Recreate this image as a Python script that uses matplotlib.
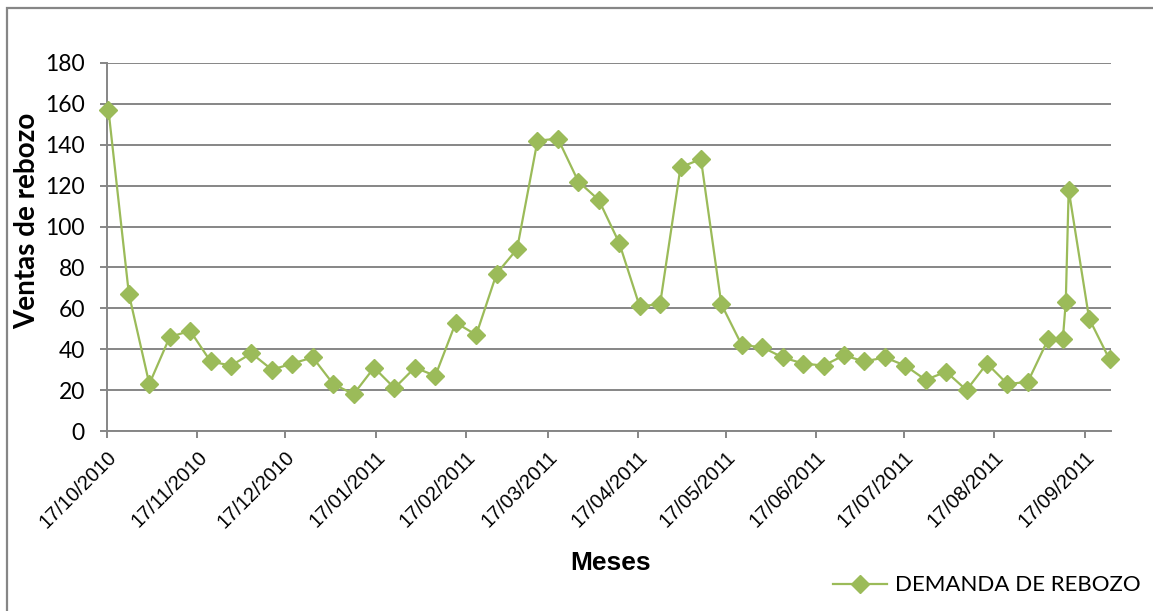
import numpy as np
import pandas as pd
import matplotlib
matplotlib.use('Agg')
import matplotlib.pyplot as plt
import matplotlib.dates as mdates
from matplotlib.lines import Line2D
from matplotlib.patches import Rectangle

# demanda semanal de rebozo
fechas = ['2010-10-17', '2010-10-24', '2010-10-31', '2010-11-07', '2010-11-14', '2010-11-21',
          '2010-11-28', '2010-12-05', '2010-12-12', '2010-12-19', '2010-12-26', '2011-01-02',
          '2011-01-09', '2011-01-16', '2011-01-23', '2011-01-30', '2011-02-06', '2011-02-13',
          '2011-02-20', '2011-02-27', '2011-03-06', '2011-03-13', '2011-03-20', '2011-03-27',
          '2011-04-03', '2011-04-10', '2011-04-17', '2011-04-24', '2011-05-01', '2011-05-08',
          '2011-05-15', '2011-05-22', '2011-05-29', '2011-06-05', '2011-06-12', '2011-06-19',
          '2011-06-26', '2011-07-03', '2011-07-10', '2011-07-17', '2011-07-24', '2011-07-31',
          '2011-08-07', '2011-08-14', '2011-08-21', '2011-08-28', '2011-09-04', '2011-09-09',
          '2011-09-10', '2011-09-11', '2011-09-18', '2011-09-25']
demanda = [157, 67, 23, 46, 49, 34, 32, 38, 30, 33, 36, 23,
           18, 31, 21, 31, 27, 53, 47, 77, 89, 142, 143, 122,
           113, 92, 61, 62, 129, 133, 62, 42, 41, 36, 33, 32,
           37, 34, 36, 32, 25, 29, 20, 33, 23, 24, 45, 45,
           63, 118, 55, 35]
etiqueta = 'DEMANDA DE REBOZO'

verde = '#9BBB59'
gris = '#868686'

# cada punto al centro de su dia, como en el eje de fechas de excel
x = pd.to_datetime(fechas) + pd.Timedelta(hours=12)

fig = plt.figure(figsize=(11.53, 6.11), dpi=100)
ax = fig.add_axes([107/1153, 1 - 431/611, (1111-107)/1153, (431-63)/611])

ax.plot(x, demanda, color=verde, lw=1.6, marker='D', markersize=8.8,
        markerfacecolor=verde, markeredgecolor=verde, label=etiqueta, clip_on=False, zorder=3)

ax.set_xlim(pd.Timestamp('2010-10-17'), pd.Timestamp('2011-09-26'))
ax.set_ylim(0, 180)
ax.set_yticks(np.arange(0, 181, 20))
ax.xaxis.set_major_locator(mdates.MonthLocator(bymonthday=17))
ax.xaxis.set_major_formatter(mdates.DateFormatter('%d/%m/%Y'))

ax.grid(axis='y', color=gris, lw=1.4)
ax.set_axisbelow(True)
for s in ['top', 'right']:
    ax.spines[s].set_visible(False)
for s in ['left', 'bottom']:
    ax.spines[s].set_color(gris)
    ax.spines[s].set_linewidth(1.4)
ax.tick_params(axis='both', color=gris, width=1.4, length=5, direction='out')
ax.tick_params(axis='y', labelsize=16.5, pad=11)
for t in ax.get_yticklabels():
    t.set_fontfamily('Lato')
ax.tick_params(axis='x', labelsize=14.5, pad=7)
for t in ax.get_xticklabels():
    t.set_fontfamily('Liberation Sans')
    t.set_rotation(45)
    t.set_ha('right')
    t.set_rotation_mode('anchor')

fig.text(27/1153, 1 - 221/611, 'Ventas de rebozo', fontsize=20, fontweight='bold',
         family='Lato', rotation=90, ha='center', va='center')
fig.text(611/1153, 1 - 563/611, 'Meses', fontsize=19, fontweight='bold',
         family='Liberation Sans', ha='center', va='center')

# leyenda abajo a la derecha
fig.add_artist(Line2D([833/1153, 887/1153], [1 - 584/611, 1 - 584/611], color=verde, lw=1.6))
fig.add_artist(Line2D([860/1153], [1 - 584/611], color=verde, marker='D', markersize=8.8))
fig.text(895/1153, 1 - 585/611, etiqueta, fontsize=16, family='Lato', ha='left', va='center')

# marco del grafico
fig.add_artist(Rectangle((7/1153, -0.1), 1.2, 1.1 - 8/611, transform=fig.transFigure,
                         fill=False, edgecolor=gris, lw=1.6))

fig.savefig('out.png', dpi=100)
